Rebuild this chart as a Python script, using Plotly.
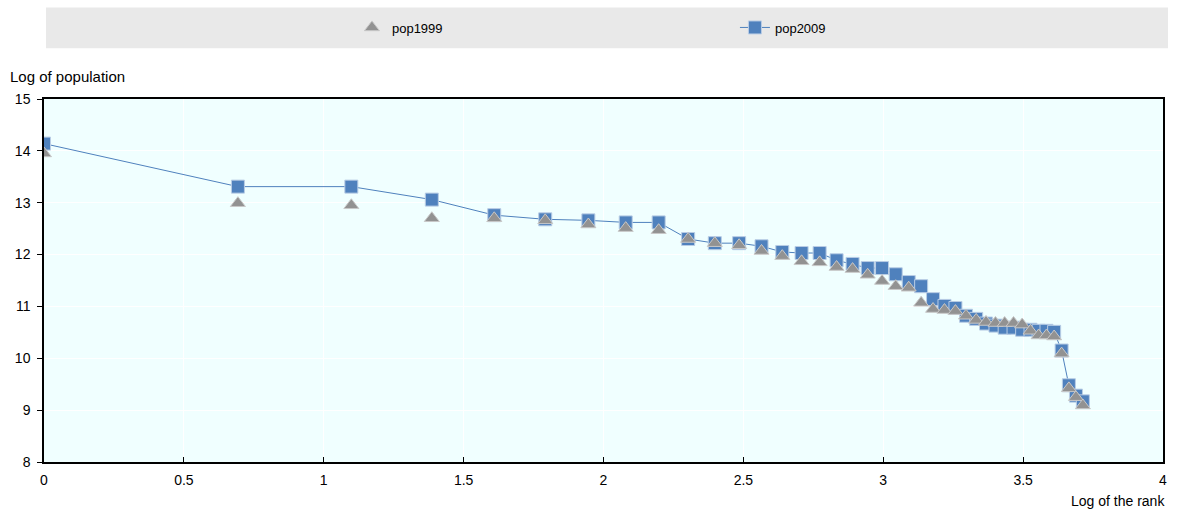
import numpy as np
import plotly.graph_objects as go

# City rank (1 = largest) and log population in each year
rank = [1, 2, 3, 4, 5, 6, 7, 8, 9, 10, 11, 12, 13, 14, 15, 16, 17, 18, 19, 20,
        21, 22, 23, 24, 25, 26, 27, 28, 29, 30, 31, 32, 33, 34, 35, 36, 37, 38,
        39, 40, 41]

pop2009 = [14.14, 13.31, 13.31, 13.06, 12.76, 12.68, 12.66, 12.62, 12.62, 12.30,
           12.22, 12.22, 12.16, 12.05, 12.03, 12.03, 11.89, 11.82, 11.74, 11.74,
           11.62, 11.47, 11.39, 11.14, 11.01, 10.97, 10.82, 10.76, 10.67, 10.63,
           10.59, 10.59, 10.55, 10.55, 10.53, 10.53, 10.51, 10.15, 9.48, 9.28, 9.17]

pop1999 = [13.95, 12.99, 12.95, 12.70, 12.70, 12.66, 12.58, 12.51, 12.47, 12.30,
           12.22, 12.18, 12.07, 11.97, 11.87, 11.85, 11.76, 11.72, 11.61, 11.49,
           11.39, 11.36, 11.07, 10.95, 10.93, 10.91, 10.82, 10.74, 10.70, 10.68,
           10.68, 10.68, 10.65, 10.53, 10.44, 10.44, 10.42, 10.09, 9.42, 9.25, 9.09]

x_ticks = [0, 0.5, 1, 1.5, 2, 2.5, 3, 3.5, 4]
x_tick_labels = ["0", "0.5", "1", "1.5", "2", "2.5", "3", "3.5", "4"]
y_ticks = [8, 9, 10, 11, 12, 13, 14, 15]

log_rank = np.log(np.array(rank, dtype=float))

FONT = "Liberation Sans Narrow, Arial Narrow, Liberation Sans, Arial, sans-serif"
BLUE = "#4f81bd"
GREY = "#929292"

fig = go.Figure()

fig.add_trace(go.Scatter(
    x=log_rank, y=pop2009, name="pop2009", mode="lines+markers",
    line=dict(color=BLUE, width=1),
    marker=dict(symbol="square", size=13, color=BLUE,
                line=dict(color="#b9cde5", width=1)),
    legendrank=2,
))

fig.add_trace(go.Scatter(
    x=log_rank, y=pop1999, name="pop1999", mode="markers",
    marker=dict(symbol="triangle-up", size=13, color=GREY,
                line=dict(color="#c8c8c8", width=1)),
    legendrank=1,
))

# grey band behind the legend
fig.add_shape(type="rect", xref="paper", yref="paper",
              x0=0.0018, x1=1.0045, y0=1.1397, y1=1.2521,
              fillcolor="#e9e9e9", line=dict(width=0), layer="below")

fig.add_annotation(text="Log of population", xref="paper", yref="paper",
                   x=-0.0322, y=1.063, xanchor="left", yanchor="middle",
                   showarrow=False, font=dict(family=FONT, size=15, color="black"))
fig.add_annotation(text="Log of the rank", xref="paper", yref="paper",
                   x=1.0036, y=-0.107, xanchor="right", yanchor="middle",
                   showarrow=False, font=dict(family=FONT, size=14, color="black"))

fig.update_layout(
    width=1189, height=512,
    margin=dict(l=44, r=26, t=97, b=50),
    paper_bgcolor="white",
    plot_bgcolor="#f0ffff",
    font=dict(family=FONT, size=13, color="black"),
    legend=dict(orientation="h", x=0.2752, y=1.197, xanchor="left",
                yanchor="middle", bgcolor="rgba(0,0,0,0)",
                entrywidth=338, entrywidthmode="pixels",
                font=dict(family=FONT, size=13, color="black")),
    xaxis=dict(range=[0, 4], tickvals=x_ticks, ticktext=x_tick_labels,
               showgrid=True, gridcolor="white", gridwidth=1,
               zeroline=False, showline=True, linecolor="black", linewidth=1.5,
               mirror=True, ticks="inside", ticklen=5, tickcolor="black",
               ticklabelstandoff=4,
               tickfont=dict(family=FONT, size=14, color="black")),
    yaxis=dict(range=[8, 15], tickvals=y_ticks,
               showgrid=True, gridcolor="white", gridwidth=1,
               zeroline=False, showline=True, linecolor="black", linewidth=1.5,
               mirror=True, ticks="outside", ticklen=5, tickcolor="black",
               ticklabelstandoff=4,
               tickfont=dict(family=FONT, size=14, color="black")),
    showlegend=True,
)

fig.write_html("out.html")
